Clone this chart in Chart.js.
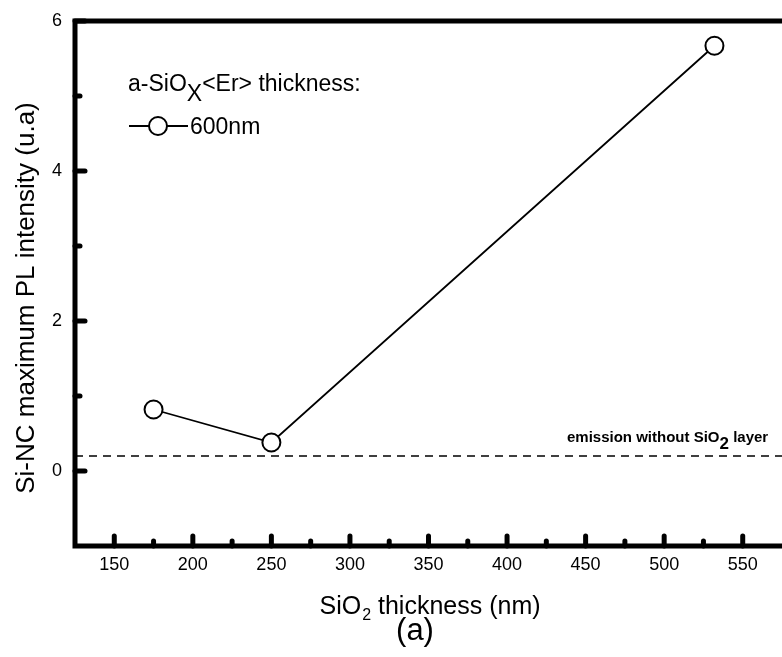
<!DOCTYPE html>
<html>
<head>
<meta charset="utf-8">
<script src="https://cdn.jsdelivr.net/npm/chart.js@4.4.0/dist/chart.umd.min.js"></script>
<style>
  html, body { margin: 0; padding: 0; background: #fff; }
  #wrap { width: 782px; height: 657px; }
</style>
</head>
<body>
<div id="wrap"><canvas id="c" width="782" height="657"></canvas></div>
<script>
// ---- data ----
const thickness = [175, 250, 532];          // SiO2 thickness (nm)
const intensity = [0.82, 0.38, 5.67];       // Si-NC maximum PL intensity (u.a)
const baselineX = [125, 575];
const baselineY = [0.2, 0.2];               // emission without SiO2 layer
const xTickLabels = [150, 200, 250, 300, 350, 400, 450, 500, 550];
const xMinorTicks = [175, 225, 275, 325, 375, 425, 475, 525];
const yTickLabels = [0, 2, 4, 6];
const yMinorTicks = [1, 3, 5];
const xRange = [125, 575];
const yRange = [-1, 6];

const FONT = "'Liberation Sans', Arial, sans-serif";

const framePlugin = {
  id: 'frame',
  afterDatasetsDraw(chart) {
    const ctx = chart.ctx;
    const a = chart.chartArea;
    const xs = chart.scales.x, ys = chart.scales.y;
    ctx.save();
    ctx.strokeStyle = '#000';
    ctx.lineWidth = 5;
    ctx.lineCap = 'square';
    ctx.beginPath();
    ctx.moveTo(a.left, a.bottom);
    ctx.lineTo(a.left, a.top);
    ctx.lineTo(a.right + 5, a.top);
    ctx.moveTo(a.left, a.bottom);
    ctx.lineTo(a.right + 5, a.bottom);
    ctx.stroke();
    ctx.lineCap = 'round';
    yTickLabels.forEach(v => {
      const p = ys.getPixelForValue(v);
      ctx.beginPath(); ctx.moveTo(a.left, p); ctx.lineTo(a.left + 10, p); ctx.stroke();
    });
    yMinorTicks.forEach(v => {
      const p = ys.getPixelForValue(v);
      ctx.beginPath(); ctx.moveTo(a.left, p); ctx.lineTo(a.left + 5, p); ctx.stroke();
    });
    xTickLabels.forEach(v => {
      const p = xs.getPixelForValue(v);
      ctx.beginPath(); ctx.moveTo(p, a.bottom); ctx.lineTo(p, a.bottom - 10); ctx.stroke();
    });
    xMinorTicks.forEach(v => {
      const p = xs.getPixelForValue(v);
      ctx.beginPath(); ctx.moveTo(p, a.bottom); ctx.lineTo(p, a.bottom - 5); ctx.stroke();
    });
    ctx.restore();
  },
  afterDraw(chart) {
    const ctx = chart.ctx;
    ctx.save();
    ctx.fillStyle = '#000';
    ctx.textBaseline = 'alphabetic';

    // Y axis title
    ctx.save();
    ctx.translate(34, 298);
    ctx.rotate(-Math.PI / 2);
    ctx.font = '26px ' + FONT;
    ctx.textAlign = 'center';
    ctx.fillText('Si-NC maximum PL intensity (u.a)', 0, 0);
    ctx.restore();

    // X axis title with subscript
    ctx.textAlign = 'left';
    const p1 = 'SiO', p3 = ' thickness (nm)';
    ctx.font = '25px ' + FONT;
    const w1 = ctx.measureText(p1).width;
    const w3 = ctx.measureText(p3).width;
    ctx.font = '16px ' + FONT;
    const w2 = ctx.measureText('2').width;
    const total = w1 + w2 + w3 + 1;
    const x0 = 430 - total / 2;
    const by = 614;
    ctx.font = '25px ' + FONT;
    ctx.fillText(p1, x0, by);
    ctx.font = '16px ' + FONT;
    ctx.fillText('2', x0 + w1 + 1, by + 6);
    ctx.font = '25px ' + FONT;
    ctx.fillText(p3, x0 + w1 + w2 + 1, by);

    // (a)
    ctx.font = '31px ' + FONT;
    ctx.textAlign = 'center';
    ctx.fillText('(a)', 415, 640);

    // Legend title
    ctx.textAlign = 'left';
    ctx.font = '23px ' + FONT;
    let lx = 128;
    const ly = 91;
    ctx.fillText('a-SiO', lx, ly);
    lx += ctx.measureText('a-SiO').width;
    ctx.fillText('X', lx, ly + 10);
    lx += ctx.measureText('X').width;
    ctx.fillText('<Er> thickness:', lx, ly);

    // Legend entry
    const ey = 126;
    ctx.strokeStyle = '#000';
    ctx.lineWidth = 1.8;
    ctx.beginPath(); ctx.moveTo(129, ey); ctx.lineTo(188, ey); ctx.stroke();
    ctx.beginPath(); ctx.arc(158, ey, 9, 0, Math.PI * 2);
    ctx.fillStyle = '#fff'; ctx.fill();
    ctx.lineWidth = 2; ctx.stroke();
    ctx.fillStyle = '#000';
    ctx.font = '23px ' + FONT;
    ctx.fillText('600nm', 190, ey + 8);

    // baseline annotation
    ctx.font = 'bold 15px ' + FONT;
    const t1 = 'emission without SiO', t3 = ' layer';
    const aw1 = ctx.measureText(t1).width;
    const sx = 567, sy = 442;
    ctx.fillText(t1, sx, sy);
    ctx.font = 'bold 17px ' + FONT;
    const aw2 = ctx.measureText('2').width;
    ctx.fillText('2', sx + aw1, sy + 7);
    ctx.font = 'bold 15px ' + FONT;
    ctx.fillText(t3, sx + aw1 + aw2, sy);
    ctx.restore();
  }
};

new Chart(document.getElementById('c'), {
  type: 'scatter',
  data: {
    datasets: [
      {
        data: thickness.map((x, i) => ({ x, y: intensity[i] })),
        showLine: true,
        borderColor: '#000',
        borderWidth: 1.8,
        pointRadius: 9,
        pointHoverRadius: 9,
        pointBorderWidth: 2,
        pointBackgroundColor: '#fff',
        pointBorderColor: '#000',
        order: 1
      },
      {
        data: baselineX.map((x, i) => ({ x, y: baselineY[i] })),
        showLine: true,
        borderColor: '#000',
        borderWidth: 1.5,
        borderDash: [8, 6],
        pointRadius: 0,
        order: 2
      }
    ]
  },
  options: {
    responsive: false,
    animation: false,
    devicePixelRatio: 1,
    layout: { autoPadding: false, padding: { top: 21, right: 0, bottom: 0, left: 0 } },
    plugins: { legend: { display: false }, tooltip: { enabled: false } },
    scales: {
      x: {
        type: 'linear',
        min: xRange[0], max: xRange[1],
        afterBuildTicks: s => { s.ticks = xTickLabels.map(v => ({ value: v })); },
        afterFit: s => { s.height = 111; s.paddingLeft = 0; s.paddingRight = 0; },
        grid: { display: false, drawTicks: false },
        border: { display: false },
        ticks: { color: '#000', font: { size: 18, family: FONT }, padding: 8, maxRotation: 0, autoSkip: false }
      },
      y: {
        type: 'linear',
        min: yRange[0], max: yRange[1],
        afterBuildTicks: s => { s.ticks = yTickLabels.map(v => ({ value: v })); },
        afterFit: s => { s.width = 75; s.paddingTop = 0; s.paddingBottom = 0; },
        grid: { display: false, drawTicks: false },
        border: { display: false },
        ticks: { color: '#000', font: { size: 18, family: FONT }, padding: 13 }
      }
    }
  },
  plugins: [framePlugin]
});
</script>
</body>
</html>
